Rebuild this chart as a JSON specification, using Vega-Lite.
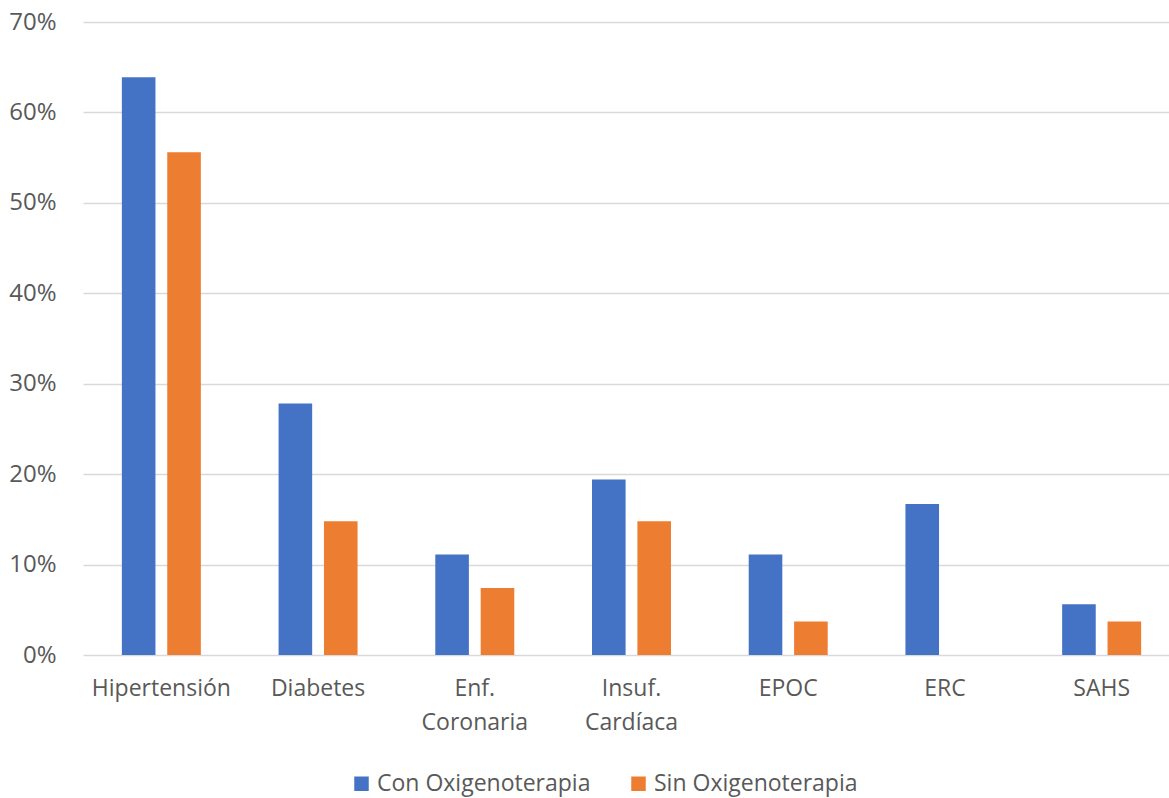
{
  "$schema": "https://vega.github.io/schema/vega-lite/v6.json",
  "autosize": {"type": "none"},
  "padding": {"left": 83, "top": 22, "right": 0, "bottom": 143},
  "width": 1086,
  "height": 633,
  "background": "white",
  "config": {
    "view": {"stroke": null},
    "font": "Open Sans",
    "axis": {"labelFont": "Open Sans", "labelColor": "#595959", "labelFontSize": 23, "gridColor": "#d9d9d9", "gridWidth": 1.3, "domain": false, "ticks": false}
  },
  "data": {
    "values": [
      {"cat": "Hipertensión", "grupo": "Con Oxigenoterapia", "v": 0.639},
      {"cat": "Hipertensión", "grupo": "Sin Oxigenoterapia", "v": 0.556},
      {"cat": "Diabetes", "grupo": "Con Oxigenoterapia", "v": 0.278},
      {"cat": "Diabetes", "grupo": "Sin Oxigenoterapia", "v": 0.148},
      {"cat": "Enf. Coronaria", "grupo": "Con Oxigenoterapia", "v": 0.111},
      {"cat": "Enf. Coronaria", "grupo": "Sin Oxigenoterapia", "v": 0.074},
      {"cat": "Insuf. Cardíaca", "grupo": "Con Oxigenoterapia", "v": 0.194},
      {"cat": "Insuf. Cardíaca", "grupo": "Sin Oxigenoterapia", "v": 0.148},
      {"cat": "EPOC", "grupo": "Con Oxigenoterapia", "v": 0.111},
      {"cat": "EPOC", "grupo": "Sin Oxigenoterapia", "v": 0.037},
      {"cat": "ERC", "grupo": "Con Oxigenoterapia", "v": 0.167},
      {"cat": "ERC", "grupo": "Sin Oxigenoterapia", "v": 0.0},
      {"cat": "SAHS", "grupo": "Con Oxigenoterapia", "v": 0.056},
      {"cat": "SAHS", "grupo": "Sin Oxigenoterapia", "v": 0.037}
    ]
  },
  "mark": {"type": "bar"},
  "encoding": {
    "x": {
      "field": "cat", "type": "nominal", "sort": null, "title": null,
      "scale": {"range": [0, 1097], "paddingInner": 0.496, "paddingOuter": 0.248},
      "axis": {"labelAngle": 0, "labelPadding": 22, "labelLineHeight": 34, "labelBaseline": "top",
        "labelExpr": "datum.value == 'Enf. Coronaria' ? ['Enf.', 'Coronaria'] : datum.value == 'Insuf. Cardíaca' ? ['Insuf.', 'Cardíaca'] : datum.value"}
    },
    "xOffset": {"field": "grupo", "type": "nominal", "scale": {"paddingInner": 0.26, "paddingOuter": 0}},
    "y": {
      "field": "v", "type": "quantitative", "title": null,
      "scale": {"domain": [0, 0.7], "nice": false},
      "axis": {"values": [0, 0.1, 0.2, 0.3, 0.4, 0.5, 0.6, 0.7], "format": ".0%", "labelPadding": 27, "labelFontSize": 24}
    },
    "color": {
      "field": "grupo", "type": "nominal", "title": null,
      "scale": {"domain": ["Con Oxigenoterapia", "Sin Oxigenoterapia"], "range": ["#4472C4", "#ED7D31"]},
      "legend": {"orient": "none", "legendX": 267, "legendY": 750, "direction": "horizontal", "symbolType": "square", "symbolSize": 210, "symbolStrokeWidth": 0, "labelFontSize": 23, "labelColor": "#595959", "labelFont": "Open Sans", "labelOffset": 4, "columnPadding": 36, "labelLimit": 400}
    }
  }
}
